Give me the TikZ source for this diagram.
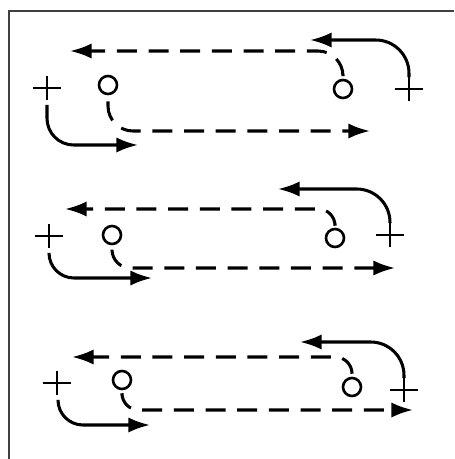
\documentclass[tikz,border=0pt]{standalone}
\usetikzlibrary{calc,arrows.meta}

\begin{document}
\begin{tikzpicture}[
            x=0.3mm, y=-0.3mm,
            frame/.style={line width=1.6pt, black!75},
            ring/.style={draw, circle, minimum size=5.4mm, inner sep=0pt, line width=2.2pt},
            plus/.style={minimum width=8.6mm, minimum height=7mm, inner sep=0pt,
                path picture={\draw[line width=2.2pt]
                    (path picture bounding box.west) -- (path picture bounding box.east)
                    (path picture bounding box.north) -- (path picture bounding box.south);}},
            run/.style={line width=2.6pt, -{Latex[length=6.5mm,width=4.6mm]}, rounded corners=#1},
            run/.default=8mm,
            pass/.style={run=#1, dash pattern=on 6mm off 3.5mm},
            pass/.default=6mm
        ]
            \useasboundingbox (0,0) rectangle (454,459);
            \draw[frame] (9,459) -- (9,11) -- (454,11);

            % top row
            \node[plus] (pl1) at (47,88) {};
            \node[ring] (cl1) at (108,85) {};
            \node[ring] (cr1) at (343,89) {};
            \node[plus] (pr1) at (409,89) {};
            \coordinate (tl1) at (138,145);
            \coordinate (tb1) at (370,131);
            \coordinate (tt1) at (70,51);
            \coordinate (tr1) at (310,40);

            \draw[run] ($(pl1.south)+(0,5)$) |- (tl1);
            \draw[pass=7.5mm] ($(cl1.south)+(0,6)$) |- (tb1);
            \draw[pass=7.5mm] ($(cr1.north)+(0,-4)$) |- (tt1);
            \draw[run=10mm] (pr1.north) |- (tr1);

            % middle row
            \node[plus] (pl2) at (49,236) {};
            \node[ring] (cl2) at (112,235) {};
            \node[ring] (cr2) at (335,238) {};
            \node[plus] (pr2) at (390,235) {};
            \coordinate (tl2) at (152,278);
            \coordinate (tb2) at (395,268);
            \coordinate (tt2) at (65,209);
            \coordinate (tr2) at (278,189);

            \draw[run=7.5mm] ($(pl2.south)+(0,5)$) |- (tl2);
            \draw[pass=5.5mm] ($(cl2.south)+(0,5)$) |- (tb2);
            \draw[pass=5mm] ($(cr2.north)+(0,-4)$) |- (tt2);
            \draw[run=10mm] (pr2.north) |- (tr2);

            % bottom row
            \node[plus] (pl3) at (57,383) {};
            \node[ring] (cl3) at (122,380) {};
            \node[ring] (cr3) at (352,387) {};
            \node[plus] (pr3) at (404,390) {};
            \coordinate (tl3) at (150,425);
            \coordinate (tb3) at (413,410);
            \coordinate (tt3) at (72,357);
            \coordinate (tr3) at (300,342);

            \draw[run=7.5mm] ($(pl3.south)+(1,5)$) |- (tl3);
            \draw[pass=5mm] ($(cl3.south)+(0,5)$) |- (tb3);
            \draw[pass=5mm] ($(cr3.north)+(0,-4)$) |- (tt3);
            \draw[run=10mm] (pr3.north) |- (tr3);
        \end{tikzpicture}
\end{document}
